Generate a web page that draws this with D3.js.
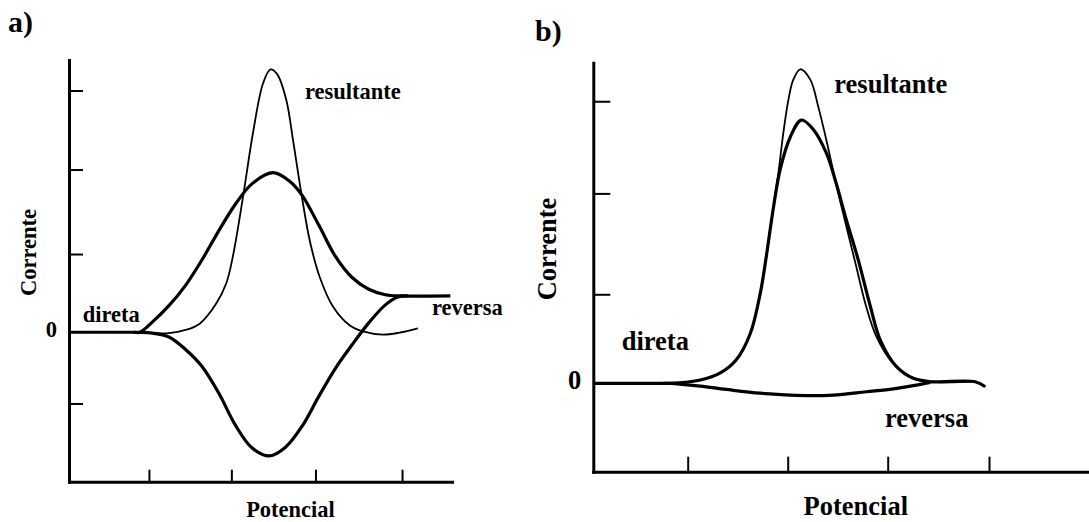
<!DOCTYPE html>
<html>
<head>
<meta charset="utf-8">
<script src="https://cdn.jsdelivr.net/npm/d3@7"></script>
<style>
	body { margin: 0; background: #fff; }
	text { font-family: "Liberation Serif", "Times New Roman", serif; font-weight: bold; fill: #000; }
</style>
</head>
<body>
<script>
// Panel a: [potencial, corrente]
const diretaA = [[0,0],[0.78,0],[0.85,0],[1.0,0.13],[1.2,0.34],[1.4,0.60],[1.6,0.93],[1.8,1.30],
	[2.0,1.64],[2.2,1.90],[2.45,2.04],[2.65,1.93],[2.8,1.75],[3.0,1.37],[3.2,0.97],[3.4,0.70],
	[3.6,0.55],[3.8,0.48],[4.0,0.465],[4.58,0.464]];
const reversaA = [[0.78,0],[0.85,0],[1.0,-0.01],[1.2,-0.06],[1.4,-0.22],[1.6,-0.44],[1.8,-0.78],
	[2.0,-1.19],[2.2,-1.48],[2.41,-1.58],[2.6,-1.47],[2.8,-1.20],[3.0,-0.82],[3.2,-0.46],[3.4,-0.16],
	[3.6,0.12],[3.8,0.35],[3.95,0.45],[4.07,0.464]];
const resultanteA = [[0.77,0],[1.0,-0.01],[1.2,-0.01],[1.4,0.03],[1.57,0.11],[1.77,0.37],[1.89,0.63],
	[1.97,0.98],[2.09,1.73],[2.21,2.55],[2.33,3.18],[2.42,3.36],[2.50,3.30],[2.61,2.97],[2.69,2.46],
	[2.79,1.78],[2.89,1.18],[3.01,0.71],[3.17,0.33],[3.37,0.09],[3.53,0.01],[3.77,-0.03],[3.97,-0.005],
	[4.19,0.05]];

// Panel b
const diretaB = [[0,0],[0.70,0],[0.77,0],[1.07,0.035],[1.27,0.11],[1.43,0.25],[1.57,0.53],[1.67,0.96],
	[1.73,1.35],[1.80,1.86],[1.87,2.28],[1.97,2.62],[2.08,2.80],[2.20,2.70],[2.33,2.45],[2.42,2.16],
	[2.53,1.74],[2.65,1.31],[2.77,0.82],[2.87,0.46],[3.03,0.18],[3.20,0.053],[3.37,0.017],[3.82,0.017],
	[3.92,-0.036]];
const reversaB = [[0.70,0],[0.77,0],[1.07,-0.03],[1.33,-0.065],[1.67,-0.105],[2.13,-0.13],[2.40,-0.125],
	[2.73,-0.09],[3.00,-0.06],[3.20,-0.025],[3.37,0.01]];
const resultanteB = [[0.77,0],[1.07,0.035],[1.27,0.11],[1.43,0.25],[1.57,0.53],[1.67,0.96],[1.73,1.35],
	[1.82,2.02],[1.85,2.23],[1.90,2.66],[1.95,3.01],[2.00,3.23],[2.07,3.34],[2.17,3.23],[2.25,2.94],
	[2.33,2.59],[2.42,2.16],[2.53,1.67],[2.63,1.24],[2.72,0.85],[2.83,0.50],[3.00,0.21],[3.17,0.07],
	[3.37,0.017],[3.82,0.017]];

// Tick values (unlabelled marks) and texts
const xTicksA = [0.96, 1.95, 2.96, 4.0];
const yTicksA = [-0.91, 1, 2.08, 3.09];
const xTicksB = [0.944, 1.944, 2.944, 3.957];
const yTicksB = [0.947, 2.02, 3.0];
const panelLetters = ['a)', 'b)'];
const curveNames = ['direta', 'reversa', 'resultante'];
const axisTitles = ['Potencial', 'Corrente'];

const svg = d3.select('body').append('svg')
	.attr('width', 1089)
	.attr('height', 522);

function drawPanel(cfg) {
	const g = svg.append('g');
	const x = cfg.x, y = cfg.y;

	// Axes with inward ticks
	g.append('g')
		.attr('transform', `translate(0, ${y.range()[0]})`)
		.call(d3.axisBottom(x).tickValues(cfg.xTicks).tickSizeInner(-cfg.xTickLen).tickSizeOuter(0).tickFormat(''))
		.call(a => a.select('.domain').attr('stroke-width', 3).attr('stroke-linecap', 'square'))
		.call(a => a.selectAll('.tick line').attr('stroke-width', 2));

	g.append('g')
		.attr('transform', `translate(${x.range()[0]}, 0)`)
		.call(d3.axisLeft(y).tickValues(cfg.yTicks).tickSizeInner(-cfg.yTickLen).tickSizeOuter(0).tickFormat(''))
		.call(a => a.select('.domain').attr('stroke-width', 3).attr('stroke-linecap', 'square'))
		.call(a => a.selectAll('.tick line').attr('stroke-width', 2));

	const line = d3.line()
		.x(d => x(d[0]))
		.y(d => y(d[1]))
		.curve(d3.curveCatmullRom.alpha(0.5));

	const series = [
		{ data: cfg.direta, w: 3.2 },
		{ data: cfg.reversa, w: 3.2 },
		{ data: cfg.resultante, w: 1.8 }
	];
	g.selectAll('path.curve')
		.data(series)
		.enter().append('path')
		.attr('class', 'curve')
		.attr('d', d => line(d.data))
		.attr('fill', 'none')
		.attr('stroke', '#000')
		.attr('stroke-width', d => d.w)
		.attr('stroke-linejoin', 'round');

	// Curve labels
	cfg.labels.forEach(l => {
		g.append('text')
			.attr('x', x(l.pos[0]))
			.attr('y', y(l.pos[1]))
			.style('font-size', cfg.fs + 'px')
			.text(l.text);
	});

	// Zero label
	g.append('text')
		.attr('x', x.range()[0] - cfg.zeroGap)
		.attr('y', y(0) + cfg.fs * 0.22)
		.attr('text-anchor', 'end')
		.style('font-size', cfg.fs + 'px')
		.text('0');

	// Axis titles
	g.append('text')
		.attr('x', cfg.xTitle[0])
		.attr('y', cfg.xTitle[1])
		.attr('text-anchor', 'middle')
		.style('font-size', cfg.fs + 'px')
		.text(axisTitles[0]);

	g.append('text')
		.attr('transform', `translate(${cfg.yTitle[0]}, ${cfg.yTitle[1]}) rotate(-90)`)
		.attr('text-anchor', 'middle')
		.style('font-size', cfg.fs + 'px')
		.text(axisTitles[1]);

	// Panel letter
	g.append('text')
		.attr('x', cfg.letter[0])
		.attr('y', cfg.letter[1])
		.style('font-size', cfg.letterFs + 'px')
		.text(cfg.letterText);
}

drawPanel({
	x: d3.scaleLinear().domain([0, 4.6]).range([69, 452]),
	y: d3.scaleLinear().domain([-1.91, 3.48]).range([481.7, 60]),
	xTicks: xTicksA, yTicks: yTicksA, xTickLen: 12, yTickLen: 14,
	direta: diretaA, reversa: reversaA, resultante: resultanteA,
	labels: [
		{ text: curveNames[0], pos: [0.165, 0.135] },
		{ text: curveNames[1], pos: [4.36, 0.221] },
		{ text: curveNames[2], pos: [2.834, 2.978] }
	],
	fs: 22.5, zeroGap: 12,
	xTitle: [290.5, 516.7], yTitle: [36, 252.5],
	letter: [8, 32], letterFs: 30, letterText: panelLetters[0]
});

drawPanel({
	x: d3.scaleLinear().domain([0, 4.96]).range([593.3, 1089.3]),
	y: d3.scaleLinear().domain([-0.94, 3.41]).range([471.7, 62.7]),
	xTicks: xTicksB, yTicks: yTicksB, xTickLen: 15, yTickLen: 17,
	direta: diretaB, reversa: reversaB, resultante: resultanteB,
	labels: [
		{ text: curveNames[0], pos: [0.284, 0.354] },
		{ text: curveNames[1], pos: [2.917, -0.462] },
		{ text: curveNames[2], pos: [2.41, 3.091] }
	],
	fs: 26.5, zeroGap: 12,
	xTitle: [855.8, 515], yTitle: [556, 249],
	letter: [535, 41], letterFs: 30, letterText: panelLetters[1]
});
</script>
</body>
</html>
